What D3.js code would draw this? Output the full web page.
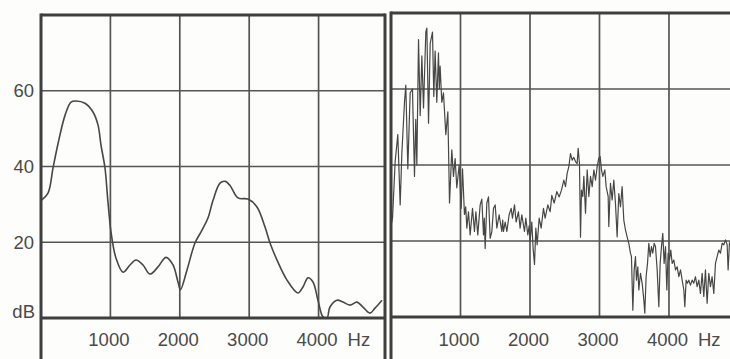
<!DOCTYPE html>
<html>
<head>
<meta charset="utf-8">
<script src="https://cdn.jsdelivr.net/npm/d3@7"></script>
<style>
  html, body { margin: 0; padding: 0; background: #fdfdfb; }
  svg { display: block; }
  text { font-family: "Liberation Sans", Arial, Helvetica, sans-serif; fill: #4a4a4a; }
</style>
</head>
<body>
<svg id="chart" width="730" height="359"></svg>
<script>
// Axis ticks and labels
const dbTicks = [20, 40, 60];
const dbTickLabels = ["20", "40", "60"];
const dbUnit = "dB";
const hzTicks = [1000, 2000, 3000, 4000];
const hzTickLabels = ["1000", "2000", "3000", "4000"];
const hzUnit = "Hz";

// Smoothed spectral envelope (left panel): frequency in Hz, level in dB
const envelopeHz = [0, 101, 173, 245, 346, 432, 504, 634, 749, 821, 865, 922, 965, 1009, 1081, 1182,
  1282, 1369, 1470, 1571, 1686, 1801, 1902, 1974, 2010, 2104, 2219, 2320, 2406, 2478, 2579, 2651,
  2723, 2839, 2983, 3112, 3228, 3300, 3401, 3545, 3703, 3775, 3847, 3919, 3991, 4063, 4121, 4164,
  4265, 4352, 4452, 4553, 4640, 4741, 4813, 4914];
const envelopeDb = [31, 33, 39.6, 46, 53.5, 57, 57.3, 56.7, 54.4, 51, 45.6, 39.6, 30.6, 22.7, 15.8, 12.1,
  14, 15.3, 14, 11.6, 13.5, 16, 14, 9.5, 7.5, 12.7, 19.8, 23.2, 26.4, 31, 35.6, 36.1,
  35, 31.7, 31.4, 29.3, 24, 19.8, 15.3, 10, 6.6, 8.2, 10.6, 9.5, 4.7, 0.3, 0, 2.9,
  4.7, 4.2, 3.4, 4.2, 2.9, 1.3, 2.6, 4.7];

// Narrow-band harmonic spectrum (right panel): frequency in Hz, level in dB
const spectrumHz = [0, 22, 60, 98, 132, 156, 194, 213, 242, 276, 309, 338, 356, 372, 396, 420, 444, 468,
  501, 516, 540, 564, 597, 616, 635, 659, 683, 695, 707, 731, 755, 789, 818, 842, 875, 899, 923, 947,
  981, 1010, 1029, 1057, 1075, 1091, 1115, 1139, 1173, 1201, 1221, 1249, 1283, 1307, 1331, 1343, 1355,
  1379, 1403, 1427, 1451, 1475, 1499, 1523, 1556, 1595, 1607, 1619, 1643, 1667, 1700, 1729, 1748, 1777,
  1801, 1834, 1858, 1882, 1921, 1940, 1969, 1988, 2002, 2026, 2045, 2065, 2084, 2103, 2132, 2161, 2194,
  2218, 2257, 2290, 2314, 2348, 2386, 2420, 2453, 2487, 2511, 2535, 2559, 2583, 2607, 2631, 2655, 2679,
  2693, 2712, 2727, 2741, 2760, 2775, 2799, 2823, 2847, 2871, 2895, 2919, 2943, 2967, 2990, 3010, 3029,
  3048, 3077, 3096, 3125, 3134, 3158, 3182, 3206, 3230, 3254, 3278, 3302, 3326, 3350, 3374, 3398, 3422,
  3446, 3460, 3480, 3499, 3518, 3532, 3552, 3566, 3590, 3614, 3638, 3652, 3671, 3691, 3710, 3729, 3748,
  3767, 3787, 3806, 3830, 3854, 3873, 3892, 3911, 3930, 3950, 3969, 3988, 4007, 4026, 4046, 4070, 4094,
  4118, 4142, 4166, 4190, 4214, 4228, 4247, 4266, 4285, 4309, 4333, 4357, 4381, 4405, 4429, 4453, 4477,
  4501, 4525, 4549, 4573, 4597, 4621, 4645, 4669, 4693, 4717, 4741, 4765, 4789, 4813, 4837, 4851, 4870,
  4885];
const spectrumDb = [24, 26, 41, 48, 29.5, 43, 56.5, 61, 39, 59, 60, 37, 52, 40, 73, 53, 68.7, 55,
  75, 76, 51, 72, 75, 58, 70, 56.5, 69.5, 60, 66, 56.5, 59, 48, 54, 30, 44, 37, 41.7, 34,
  40, 28.6, 39, 27, 29, 23.4, 27.7, 21.6, 28.6, 22.5, 27.7, 21.6, 29.5, 31, 21.6, 26, 18,
  30, 31.6, 20.7, 22.5, 28.6, 29.5, 23.4, 26.9, 22.5, 25.5, 22.5, 25, 22.5, 26.9, 28.6, 26, 29.5,
  25, 27.7, 23.4, 26.9, 22.5, 26, 21.6, 24, 19.9, 25, 18, 13.8, 23.4, 19, 26, 23.4, 28.6,
  26, 29.5, 27.7, 32, 30, 33, 31.6, 33.4, 36, 34.3, 37.8, 39.6, 43, 41.3, 42, 40.9, 40.4,
  44.4, 40.4, 21, 33.4, 31.7, 37, 27.3, 38.7, 31.7, 37, 34.3, 38.7, 36, 39.6, 41.8, 42.2, 38.7,
  37, 38.7, 34.3, 31.7, 23.8, 35.2, 30.8, 36, 29.9, 21.1, 32.5, 29, 34.3, 25.5, 22.9, 21.1, 19.4,
  16.8, 15.9, 1.8, 12.4, 15.9, 9.7, 13.2, 7.1, 11.5, 8.9, 4.5, 1, 10.6, 14.1, 19.4, 15.9, 18.5,
  16.8, 19.4, 18.5, 12.4, 2.7, 14.1, 18.5, 22, 14.1, 18.5, 7.1, 16.8, 15, 17.6, 14.1, 15, 12.4,
  13.2, 10.6, 12.4, 9.7, 7.1, 2.7, 9.7, 8.9, 9.7, 8.4, 9.7, 8.9, 10.6, 8, 9.7, 6.2, 11.5,
  5.4, 12.4, 3.6, 11.5, 8, 10.6, 6.2, 14.1, 15.9, 17.6, 16.8, 19.4, 19, 20.3, 19, 12.4, 19.4,
  20];

const svg = d3.select("#chart");
const H = 359;
const gridColor = "#555";
const frameColor = "#3f3f3f";
const lineColor = "#474747";
const fontSize = 18.5;

// Two panels side by side; each gets its own scales
const panels = [
  { left: 41, right: 385, top: 15, zero: 318, hzMax: 4957, hz: envelopeHz, db: envelopeDb,
    curve: d3.curveCatmullRom.alpha(0.5), width: 1.6, yLabels: true },
  { left: 391, right: 740, top: 13, zero: 317, hzMax: 5022, hz: spectrumHz, db: spectrumDb,
    curve: d3.curveLinear, width: 1.2, yLabels: false }
];

panels.forEach(p => {
  const x = d3.scaleLinear().domain([0, p.hzMax]).range([p.left, p.right]);
  const y = d3.scaleLinear().domain([0, 80]).range([p.zero, p.top]);
  const g = svg.append("g");

  // grid
  g.selectAll("line.vg").data(hzTicks).join("line")
    .attr("x1", d => x(d)).attr("x2", d => x(d))
    .attr("y1", p.top).attr("y2", p.zero)
    .attr("stroke", gridColor).attr("stroke-width", 1.7);
  g.selectAll("line.hg").data(dbTicks).join("line")
    .attr("x1", p.left).attr("x2", p.right)
    .attr("y1", d => y(d)).attr("y2", d => y(d))
    .attr("stroke", gridColor).attr("stroke-width", 1.7);

  // trace
  const pts = p.hz.map((f, i) => [f, p.db[i]]);
  g.append("path")
    .datum(pts)
    .attr("fill", "none")
    .attr("stroke", lineColor)
    .attr("stroke-width", p.width)
    .attr("stroke-linejoin", "round")
    .attr("d", d3.line().x(d => x(d[0])).y(d => y(d[1])).curve(p.curve));

  // frame: top, sides down to the bottom edge, and the 0 dB baseline
  g.append("line").attr("x1", p.left).attr("x2", p.right).attr("y1", p.top).attr("y2", p.top)
    .attr("stroke", frameColor).attr("stroke-width", 3);
  g.append("line").attr("x1", p.left).attr("x2", p.right).attr("y1", p.zero).attr("y2", p.zero)
    .attr("stroke", frameColor).attr("stroke-width", 3);
  [p.left, p.right].forEach(xx => {
    g.append("line").attr("x1", xx).attr("x2", xx).attr("y1", p.top - 1.5).attr("y2", H)
      .attr("stroke", frameColor).attr("stroke-width", 3);
  });

  // frequency labels
  g.selectAll("text.hz").data(hzTicks).join("text")
    .attr("x", d => x(d) - 1.5)
    .attr("y", 346)
    .attr("text-anchor", "middle")
    .attr("font-size", fontSize)
    .text((d, i) => hzTickLabels[i]);
  g.append("text")
    .attr("x", x(hzTicks[hzTicks.length - 1]) + 29)
    .attr("y", 346)
    .attr("font-size", fontSize)
    .text(hzUnit);

  if (p.yLabels) {
    g.selectAll("text.db").data(dbTicks).join("text")
      .attr("x", 34)
      .attr("y", d => y(d) + 6.5)
      .attr("text-anchor", "end")
      .attr("font-size", fontSize)
      .text((d, i) => dbTickLabels[i]);
    g.append("text")
      .attr("x", 35)
      .attr("y", 318)
      .attr("text-anchor", "end")
      .attr("font-size", fontSize)
      .text(dbUnit);
  }
});
</script>
</body>
</html>
